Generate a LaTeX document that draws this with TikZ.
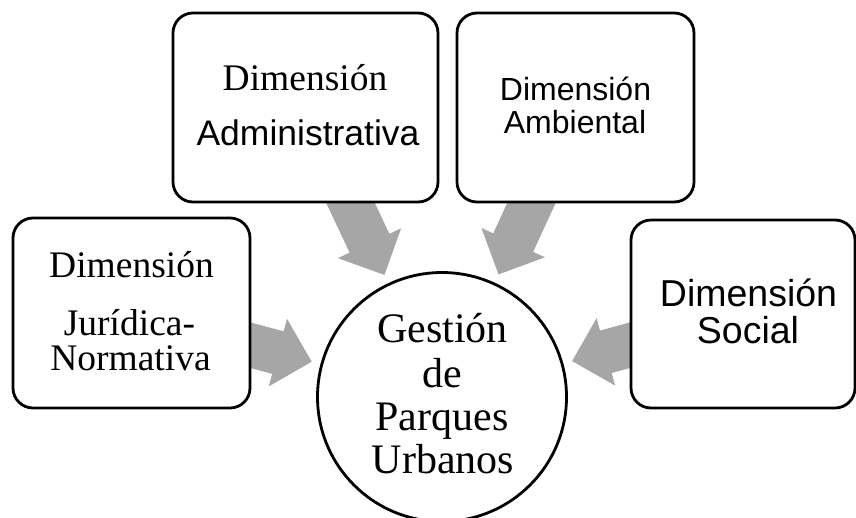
\documentclass[tikz,border=0pt]{standalone}
\usepackage{fontspec}
\setmainfont{Liberation Serif}
\newfontfamily\arialf{Liberation Sans}
\usetikzlibrary{calc}
\pgfdeclarelayer{bg}
\pgfsetlayers{bg,main}
\definecolor{arrowgray}{RGB}{166,166,166}
\tikzset{
  dimbox/.style={rectangle, draw=black, line width=2.8pt, rounded corners=20pt, fill=white, inner sep=0pt},
  hub/.style={circle, draw=black, line width=2.8pt, fill=white, inner sep=0pt, minimum size=249pt},
  txt/.style={anchor=base, inner sep=0pt, outer sep=0pt},
  arrowfill/.style={fill=arrowgray, draw=none},
}
\newcommand\blockarrow[2]{%
  \coordinate (#1-tip) at ($(#2.center)!135pt!(#1.center)$);
  \coordinate (#1-hb) at ($(#1-tip)!35pt!(#1.center)$);
  \fill[arrowfill] (#1-tip)
    -- ($(#1-hb)!35pt!90:(#1-tip)$)
    -- ($(#1-hb)!22pt!90:(#1-tip)$)
    -- ($(#1.center)!22pt!90:(#2.center)$)
    -- ($(#1.center)!22pt!-90:(#2.center)$)
    -- ($(#1-hb)!22pt!-90:(#1-tip)$)
    -- ($(#1-hb)!35pt!-90:(#1-tip)$)
    -- cycle;%
}
\begin{document}
\begin{tikzpicture}[x=1pt,y=-1pt]
\useasboundingbox (0,0) rectangle (856,517);
% boxes
\node[dimbox, minimum width=237pt, minimum height=190pt] (jur) at (131.5,313) {};
\node[dimbox, minimum width=265pt, minimum height=189pt] (adm) at (305.5,107.5) {};
\node[dimbox, minimum width=237pt, minimum height=189pt] (amb) at (575.5,107.5) {};
\node[dimbox, minimum width=224pt, minimum height=188pt] (soc) at (743,314) {};
\node[hub] (hub) at (442,397) {};
% arrows behind
\begin{pgfonlayer}{bg}
\blockarrow{jur}{hub}
\blockarrow{adm}{hub}
\blockarrow{amb}{hub}
\blockarrow{soc}{hub}
\end{pgfonlayer}
% texts
\node[txt, font=\fontsize{37.5}{40}\selectfont] (jur1) at (131.5,277) {Dimensión};
\node[txt, font=\fontsize{37.5}{40}\selectfont] (jur2) at (129.5,335) {Jurídica-};
\node[txt, font=\fontsize{37.5}{40}\selectfont] (jur3) at (130.5,370) {Normativa};
\node[txt, font=\fontsize{37.5}{40}\selectfont] (adm1) at (305,90) {Dimensión};
\node[txt, font=\arialf\fontsize{35.5}{40}\selectfont] (adm2) at (308,145) {Administrativa};
\node[txt, font=\arialf\fontsize{32}{36}\selectfont] (amb1) at (575.5,100) {Dimensión};
\node[txt, font=\arialf\fontsize{32}{36}\selectfont] (amb2) at (575,133) {Ambiental};
\node[txt, font=\arialf\fontsize{37.5}{40}\selectfont] (soc1) at (748.5,306) {Dimensión};
\node[txt, font=\arialf\fontsize{37.5}{40}\selectfont] (soc2) at (748,343) {Social};
\node[txt, font=\fontsize{42}{46}\selectfont] (hub1) at (442.5,342) {Gestión};
\node[txt, font=\fontsize{42}{46}\selectfont] (hub2) at (442,387) {de};
\node[txt, font=\fontsize{42}{46}\selectfont] (hub3) at (442,430) {Parques};
\node[txt, font=\fontsize{42}{46}\selectfont] (hub4) at (443,473) {Urbanos};
\end{tikzpicture}
\end{document}
